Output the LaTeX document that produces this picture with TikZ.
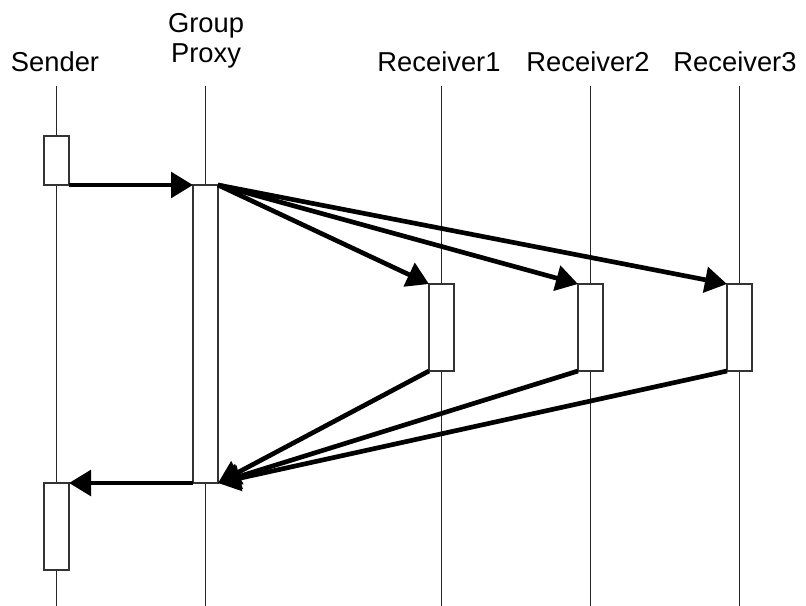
\documentclass[tikz,border=0pt]{standalone}
\usepackage{fontspec}
\setmainfont{Liberation Sans}
\usetikzlibrary{arrows.meta}
\begin{document}
\begin{tikzpicture}[x=0.75pt,y=-0.75pt,
  lifeline/.style={draw=black!85,line width=0.9pt},
  actbox/.style={draw=black!80,fill=white,line width=0.9pt,minimum width=18.75pt,inner sep=0pt,outer sep=0pt},
  msg/.style={line width=3.5pt,-{Triangle[length=16.5pt,width=19pt]},shorten >=0pt},
  lbl/.style={anchor=base,inner sep=0pt,font=\fontsize{20.5pt}{24pt}\selectfont}]
\useasboundingbox (0,0) rectangle (806,606);
% labels
\node[lbl] (lsender) at (55,72) {Sender};
\node[lbl] (lgroup) at (206,33) {Group};
\node[lbl] (lproxy) at (206,63) {Proxy};
\node[lbl] (lr1) at (439,72) {Receiver1};
\node[lbl] (lr2) at (588,72) {Receiver2};
\node[lbl] (lr3) at (735,72) {Receiver3};
% lifelines
\foreach \n/\x in {s/56.5,p/205.5,a/441.5,b/590.5,c/739.5}{
  \coordinate (\n top) at (\x,86);
  \coordinate (\n bot) at (\x,606);
  \draw[lifeline] (\n top) -- (\n bot);
}
% activation boxes
\node[actbox,minimum height=36.75pt] (s1) at (56.5,160.5) {};
\node[actbox,minimum height=223.5pt] (p) at (205.5,334) {};
\node[actbox,minimum height=65.25pt] (s2) at (56.5,526.5) {};
\node[actbox,minimum height=65.25pt] (r1) at (441.5,327.5) {};
\node[actbox,minimum height=65.25pt] (r2) at (590.5,327.5) {};
\node[actbox,minimum height=65.25pt] (r3) at (739.5,327.5) {};
% messages
\draw[msg] (s1.south east) -- (p.north west);
\draw[msg] (p.north east) -- (r1.north west);
\draw[msg] (p.north east) -- (r2.north west);
\draw[msg] (p.north east) -- (r3.north west);
\draw[msg] (r1.south west) -- (p.south east);
\draw[msg] (r2.south west) -- (p.south east);
\draw[msg] (r3.south west) -- (p.south east);
\draw[msg] (p.south west) -- (s2.north east);
\end{tikzpicture}
\end{document}
